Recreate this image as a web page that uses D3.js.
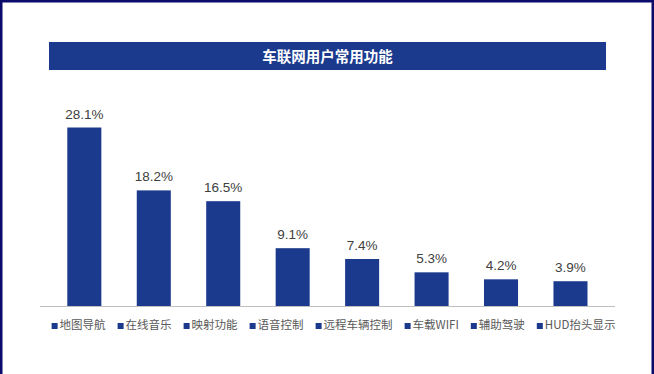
<!DOCTYPE html>
<html>
<head>
<meta charset="utf-8">
<script src="https://cdn.jsdelivr.net/npm/d3@7/dist/d3.min.js"></script>
<style>
  html, body { margin: 0; padding: 0; background: #fff; }
  svg { display: block; font-family: "Liberation Sans", Arial, "Noto Sans CJK SC", sans-serif; }
</style>
</head>
<body>
<svg id="chart" width="654" height="374"></svg>
<script>
// chart data
const title = "车联网用户常用功能";
const categories = ["地图导航", "在线音乐", "映射功能", "语音控制", "远程车辆控制", "车载WIFI", "辅助驾驶", "HUD抬头显示"];
const values = [28.1, 18.2, 16.5, 9.1, 7.4, 5.3, 4.2, 3.9];

const width = 654, height = 374;
const barColor = "#1b3a8e";
const svg = d3.select("#chart");

// background + frame
svg.append("rect").attr("width", width).attr("height", height).attr("fill", "#fff");
svg.append("path")
  .attr("d", `M1,${height} V1 H${width - 1} V${height}`)
  .attr("fill", "none")
  .attr("stroke", "#0b0b6b")
  .attr("stroke-width", 3);

// title bar
svg.append("rect")
  .attr("x", 49).attr("y", 42)
  .attr("width", 557).attr("height", 28)
  .attr("fill", barColor);
svg.append("text")
  .attr("x", 327.5).attr("y", 61.5)
  .attr("text-anchor", "middle")
  .attr("fill", "#fff")
  .style("font-family", "'Noto Sans CJK SC', sans-serif")
  .style("font-size", "14.5px")
  .style("font-weight", "bold")
  .text(title);

// scales
const x = d3.scaleBand()
  .domain(categories)
  .range([49.6, 605.2])
  .paddingInner(0.51)
  .paddingOuter(0.255);

const baseY = 306;
const y = d3.scaleLinear()
  .domain([0, 28.1])
  .range([baseY, 127.5]);

// bars
svg.append("g").selectAll("rect")
  .data(values)
  .join("rect")
  .attr("x", (d, i) => x(categories[i]))
  .attr("y", d => y(d))
  .attr("width", x.bandwidth())
  .attr("height", d => baseY - y(d))
  .attr("fill", barColor);

// value labels
svg.append("g").selectAll("text")
  .data(values)
  .join("text")
  .attr("x", (d, i) => x(categories[i]) + x.bandwidth() / 2)
  .attr("y", d => y(d) - 9)
  .attr("text-anchor", "middle")
  .attr("fill", "#404040")
  .style("font-size", "13.5px")
  .text(d => d.toFixed(1) + "%");

// axis baseline
svg.append("line")
  .attr("x1", 40).attr("x2", 615)
  .attr("y1", baseY + 0.5).attr("y2", baseY + 0.5)
  .attr("stroke", "#bfbfbf")
  .attr("stroke-width", 1);

// legend
const legend = svg.append("g").attr("class", "legend");
const items = legend.selectAll("g")
  .data(categories)
  .join("g");

items.append("rect")
  .attr("width", 6).attr("height", 6)
  .attr("y", -6)
  .attr("fill", barColor);

items.append("text")
  .attr("x", 8)
  .attr("fill", "#595959")
  .style("font-family", "'Noto Sans CJK SC', sans-serif")
  .style("font-size", "11.5px")
  .text(d => d);

// lay the legend out in one row
let lx = 0;
const gap = 12;
items.each(function() {
  const g = d3.select(this);
  const w = 8 + g.select("text").node().getComputedTextLength();
  g.attr("transform", `translate(${lx},0)`);
  lx += w + gap;
});
const legendW = lx - gap;
legend.attr("transform", `translate(${333.5 - legendW / 2},329)`);
</script>
</body>
</html>
